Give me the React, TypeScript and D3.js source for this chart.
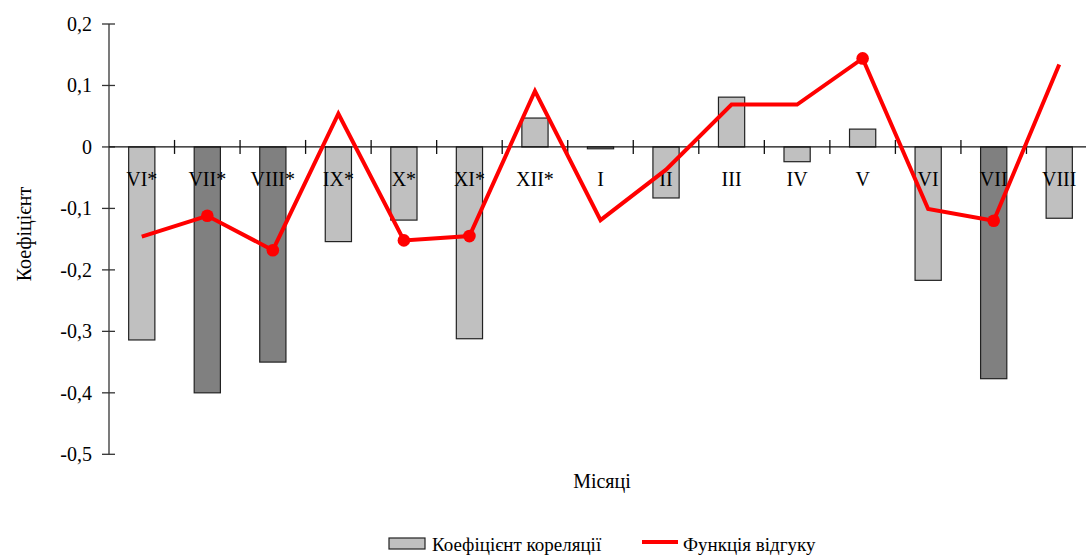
import { useMemo } from "react";
import { scaleBand, scaleLinear, line } from "d3";

const categories = ["VI*", "VII*", "VIII*", "IX*", "X*", "XI*", "XII*", "I", "II", "III", "IV", "V", "VI", "VII", "VIII"];
const correlation = [-0.314, -0.4, -0.35, -0.154, -0.119, -0.312, 0.047, -0.003, -0.083, 0.081, -0.024, 0.029, -0.217, -0.377, -0.116];
const response = [-0.146, -0.112, -0.168, 0.054, -0.152, -0.145, 0.091, -0.119, -0.037, 0.069, 0.069, 0.144, -0.101, -0.12, 0.134];
const significantBars = [1, 2, 13]; // indices of darker bars
const markedPoints = [1, 2, 4, 5, 11, 13]; // indices with markers
const yTicks = [0.2, 0.1, 0, -0.1, -0.2, -0.3, -0.4, -0.5];

const W = 1086;
const H = 555;
const PLOT = { left: 109, right: 1092, top: 24, bottom: 454.3 };
const FONT = "Liberation Serif, Times New Roman, serif";

const fmt = (v: number) => (v === 0 ? "0" : String(v).replace(".", ","));

export default function App() {
  const x = useMemo(
    () => scaleBand<string>().domain(categories.map((_, i) => String(i))).range([PLOT.left, PLOT.right]).padding(0),
    []
  );
  const y = useMemo(
    () => scaleLinear().domain([-0.5, 0.2]).range([PLOT.bottom, PLOT.top]),
    []
  );
  const bw = x.bandwidth();
  const barW = bw / 2.5;
  const cx = (i: number) => (x(String(i)) ?? 0) + bw / 2;

  const responsePath = line<number>()
    .x((_, i) => cx(i))
    .y((d) => y(d))(response);

  const y0 = y(0);
  const txt = { fontFamily: FONT, fill: "#000" } as const;

  return (
    <svg
      width={W}
      height={H}
      style={{ position: "absolute", left: 0, top: 0, background: "#fff", fontFamily: FONT }}
    >
      {/* bars */}
      {correlation.map((v, i) => {
        const top = Math.min(y(v), y0);
        const h = Math.max(Math.abs(y(v) - y0), 1);
        return (
          <rect
            key={"b" + i}
            x={cx(i) - barW / 2}
            y={top}
            width={barW}
            height={h}
            fill={significantBars.includes(i) ? "#808080" : "#C0C0C0"}
            stroke="#222"
            strokeWidth={1.2}
          />
        );
      })}

      {/* y axis */}
      <line x1={PLOT.left} x2={PLOT.left} y1={y(0.2)} y2={y(-0.5)} stroke="#333" strokeWidth={1.3} />
      {yTicks.map((t) => (
        <g key={t}>
          <line x1={PLOT.left - 7} x2={PLOT.left + 6} y1={y(t)} y2={y(t)} stroke="#333" strokeWidth={1.3} />
          <text x={92} y={y(t)} dy="0.35em" textAnchor="end" fontSize={20} style={txt}>
            {fmt(t)}
          </text>
        </g>
      ))}

      {/* x axis at zero */}
      <line x1={PLOT.left} x2={PLOT.right} y1={y0} y2={y0} stroke="#111" strokeWidth={1.3} />
      {categories.slice(1).map((_, k) => (
        <line key={"t" + k} x1={x(String(k + 1))} x2={x(String(k + 1))} y1={y0 - 7} y2={y0 + 7} stroke="#111" strokeWidth={1.3} />
      ))}
      {categories.map((c, i) => (
        <text key={"l" + i} x={cx(i)} y={186} textAnchor="middle" fontSize={20} style={txt}>
          {c}
        </text>
      ))}

      {/* response line */}
      <path d={responsePath ?? undefined} fill="none" stroke="#FF0000" strokeWidth={4} />
      {markedPoints.map((i) => (
        <circle key={"m" + i} cx={cx(i)} cy={y(response[i])} r={6.3} fill="#FF0000" />
      ))}

      {/* axis titles */}
      <text transform="translate(31, 234) rotate(-90)" textAnchor="middle" fontSize={20} style={txt}>
        Коефіцієнт
      </text>
      <text x={602} y={488} textAnchor="middle" fontSize={20} style={txt}>
        Місяці
      </text>

      {/* legend */}
      <rect x={389} y={538} width={36} height={11} fill="#C0C0C0" stroke="#222" strokeWidth={1.2} />
      <text x={432} y={551} fontSize={19} style={txt}>
        Коефіцієнт кореляції
      </text>
      <line x1={642} x2={678} y1={542} y2={542} stroke="#FF0000" strokeWidth={4} />
      <text x={683} y={551} fontSize={19} style={txt}>
        Функція відгуку
      </text>
    </svg>
  );
}
